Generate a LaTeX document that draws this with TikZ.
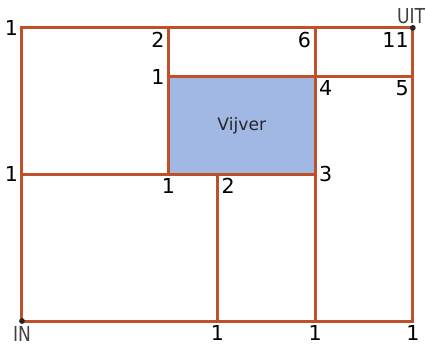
\documentclass[tikz,border=0pt]{standalone}
\usepackage{fontspec}
\setmainfont{DejaVu Sans}
\usepackage{tikz}

\definecolor{wall}{HTML}{C0502A}
\definecolor{water}{HTML}{A0B8E3}

\newcommand{\narrowtag}[1]{\scalebox{0.83}[1]{#1}}

\tikzset{
  every label/.style={font=\fontsize{12}{14}\selectfont, inner sep=2.2pt},
  wall/.style={draw=wall, line width=1.75pt},
  tag/.style={text=black!75}
}

\begin{document}
\begin{tikzpicture}
\useasboundingbox (-0.45,-0.491) rectangle (8.27,6.571);

                \coordinate[label={[name=inLbl,tag,label distance=1pt]below:\narrowtag{IN}}] (A) at (0,0);
                \coordinate[label={[name=bLbl]below:1}] (B) at (4,0);
                \coordinate[label={[name=cLbl]below:1}] (C) at (6,0);
                \coordinate[label={[name=dLbl]below:1}] (D) at (8,0);
                \coordinate[label={[name=eLbl]left:1}] (E) at (0,3);
                \coordinate[label={[name=fLbl]below:1}] (F) at (3,3);
                \coordinate[label={[name=gLbl]below right:2}] (G) at (4,3);
                \coordinate[label={[name=hLbl]right:3}] (H) at (6,3);
                \coordinate[label={[name=iLbl]left:1}] (I) at (3,5);
                \coordinate[label={[name=jLbl]below right:4}] (J) at (6,5);
                \coordinate[label={[name=kLbl]below left:5}] (K) at (8,5);
                \coordinate[label={[name=lLbl]left:1}] (L) at (0,6);
                \coordinate[label={[name=mLbl]below left:2}] (M) at (3,6);
                \coordinate[label={[name=nLbl]below left:6}] (N) at (6,6);
                \coordinate[label={[name=oLbl]below left:11}, label={[name=uitLbl,tag,xshift=-1pt]above:\narrowtag{UIT}}] (O) at (8,6);

                \node[fill=water, minimum width=3cm, minimum height=2cm, inner sep=0, font=\fontsize{10}{12}\selectfont, text=black!85] (pond) at (4.5,4) {Vijver};

                                \draw[wall] (A) -- (D) -- (O) -- (L) -- cycle;
                                \draw[wall] (M) -- (F);
                                \draw[wall] (N) -- (C);
                                \draw[wall] (G) -- (B);
                                \draw[wall] (I) -- (K);
                                \draw[wall] (E) -- (H);

                                \fill[black!85] (A) circle (1.7pt);
                                \fill[black!85] (O) circle (1.7pt);

\end{tikzpicture}
\end{document}
